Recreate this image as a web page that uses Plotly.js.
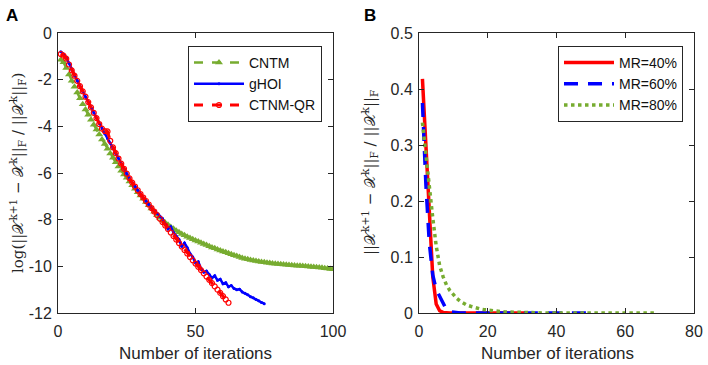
<!DOCTYPE html>
<html>
<head>
<meta charset="utf-8">
<script src="https://cdn.plot.ly/plotly-3.0.1.min.js"></script>
<style>html,body{margin:0;padding:0;background:#fff}#chart{width:708px;height:365px}</style>
</head>
<body>
<div id="chart"></div>
<script>
// ---------- Panel A data ----------
const cntmY = [-1.15,-1.25,-1.5,-1.78,-2.05,-2.3,-2.55,-2.8,-3.05,-3.28,
  -3.5,-3.72,-3.93,-4.14,-4.35,-4.56,-4.76,-4.96,-5.16,-5.35,
  -5.54,-5.72,-5.9,-6.06,-6.2,-6.36,-6.52,-6.67,-6.82,-6.96,
  -7.1,-7.24,-7.38,-7.52,-7.66,-7.8,-7.92,-8.03,-8.13,-8.22,
  -8.31,-8.39,-8.47,-8.54,-8.61,-8.67,-8.73,-8.79,-8.84,-8.89,
  -8.94,-8.99,-9.04,-9.09,-9.14,-9.19,-9.23,-9.28,-9.32,-9.36,
  -9.4,-9.44,-9.48,-9.52,-9.56,-9.6,-9.64,-9.67,-9.7,-9.73,
  -9.75,-9.77,-9.79,-9.81,-9.83,-9.85,-9.86,-9.88,-9.89,-9.9,
  -9.91,-9.92,-9.93,-9.94,-9.95,-9.96,-9.97,-9.98,-9.99,-10.0,
  -10.01,-10.02,-10.03,-10.04,-10.05,-10.06,-10.08,-10.09,-10.11,-10.13];
const ghoiY = [-0.8,-0.9,-1.05,-1.3,-1.58,-1.83,-2.05,-2.28,-2.5,-2.73,
  -2.96,-3.19,-3.42,-3.65,-3.88,-4.1,-4.32,-4.52,-4.72,-4.94,
  -5.16,-5.38,-5.6,-5.82,-6.03,-6.23,-6.41,-6.58,-6.74,-6.9,
  -7.05,-7.2,-7.35,-7.5,-7.63,-7.72,-7.85,-7.95,-8.2,-8.4,
  -8.3,-8.55,-8.7,-8.85,-9.15,-9.0,-9.2,-9.45,-9.6,-9.85,
  -9.8,-10.1,-10.25,-10.2,-10.35,-10.5,-10.4,-10.6,-10.55,-10.75,
  -10.7,-10.88,-10.82,-10.95,-11.0,-10.98,-11.1,-11.15,-11.22,-11.3,
  -11.35,-11.42,-11.48,-11.55,-11.6];
const ctnmqrY = [-0.9,-0.97,-1.1,-1.35,-1.6,-1.83,-2.05,-2.28,-2.5,-2.73,
  -2.96,-3.19,-3.42,-3.65,-3.9,-4.1,-4.2,-4.22,-4.62,-4.9,
  -5.15,-5.38,-5.6,-5.82,-6.03,-6.23,-6.41,-6.58,-6.74,-6.9,
  -7.05,-7.2,-7.35,-7.5,-7.65,-7.8,-7.95,-8.1,-8.25,-8.4,
  -8.55,-8.7,-8.85,-9.0,-9.15,-9.3,-9.45,-9.6,-9.74,-9.88,
  -10.02,-10.16,-10.3,-10.44,-10.58,-10.72,-10.86,-11.0,-11.14,-11.28,
  -11.42,-11.56];

// ---------- Panel B data ----------
const mr40Y = [0.418,0.3,0.18,0.065,0.016,0.004,0.001,0,0,0,
  0,0,0,0,0,0,0,0,0,0,
  0,0,0,0,0,0,0,0,0,0,0];
const mr60Y = [0.375,0.23,0.125,0.068,0.042,0.03,0.018,0.006,0.002,0.001,
  0,0,0,0,0,0,0,0,0,0,
  0,0,0,0,0,0,0,0,0,0,
  0,0,0,0,0,0,0,0,0,0,
  0,0,0,0,0,0,0,0,0,0];
const mr80Y = [0.34,0.28,0.225,0.17,0.12,0.085,0.065,0.05,0.04,0.032,
  0.026,0.021,0.017,0.014,0.012,0.01,0.008,0.007,0.006,0.005,
  0.004,0.0035,0.003,0.0025,0.002,0.0017,0.0014,0.0012,0.001,0.0008,
  0.0006,0.0005,0.0004,0.0003,0.0002,0.0001,0,0,0,0,
  0,0,0,0,0,0,0,0,0,0,
  0,0,0,0,0,0,0,0,0,0,
  0,0,0,0,0,0,0,0,0];

// tick labels
const aXTicks = [0, 50, 100];
const aYTicks = [0, -2, -4, -6, -8, -10, -12];
const aYText = ['0', '-2', '-4', '-6', '-8', '-10', '-12'];
const bXTicks = [0, 20, 40, 60, 80];
const bYTicks = [0, 0.1, 0.2, 0.3, 0.4, 0.5];
const bYText = ['0', '0.1', '0.2', '0.3', '0.4', '0.5'];

const iters = n => Array.from({length: n}, (_, i) => i + 1);

const GREEN = '#77AC30', BLUE = '#0000FF', RED = '#FF0000';
const AX = '#262626';
const FONT = 'Liberation Sans, Arial, Helvetica, sans-serif';

const traces = [
  {x: iters(cntmY.length), y: cntmY, name: 'CNTM', type: 'scatter', mode: 'lines+markers',
   line: {color: GREEN, width: 2.5, dash: 'dash'},
   marker: {symbol: 'triangle-up', size: 7, color: GREEN}, xaxis: 'x', yaxis: 'y', legend: 'legend'},
  {x: iters(ghoiY.length), y: ghoiY, name: 'gHOI', type: 'scatter', mode: 'lines+markers',
   line: {color: BLUE, width: 2.5},
   marker: {symbol: 'circle', size: 3, color: BLUE}, xaxis: 'x', yaxis: 'y', legend: 'legend'},
  {x: iters(ctnmqrY.length), y: ctnmqrY, name: 'CTNM-QR', type: 'scatter', mode: 'lines+markers',
   line: {color: RED, width: 3, dash: 'dash'},
   marker: {symbol: 'circle-open', size: 5, color: RED, line: {width: 1.2, color: RED}}, xaxis: 'x', yaxis: 'y', legend: 'legend'},
  {x: iters(mr40Y.length), y: mr40Y, name: 'MR=40%', type: 'scatter', mode: 'lines',
   line: {color: RED, width: 3.5}, xaxis: 'x2', yaxis: 'y2', legend: 'legend2'},
  {x: iters(mr60Y.length), y: mr60Y, name: 'MR=60%', type: 'scatter', mode: 'lines',
   line: {color: BLUE, width: 3.5, dash: '14px,10px'}, xaxis: 'x2', yaxis: 'y2', legend: 'legend2'},
  {x: iters(mr80Y.length), y: mr80Y, name: 'MR=80%', type: 'scatter', mode: 'lines',
   line: {color: GREEN, width: 3.5, dash: 'dot'}, xaxis: 'x2', yaxis: 'y2', legend: 'legend2'}
];

const axBase = {
  showgrid: false, zeroline: false, showline: true, linecolor: AX, linewidth: 1,
  mirror: 'ticks', ticks: 'inside', ticklen: 5, tickcolor: AX, tickwidth: 1,
  tickfont: {family: FONT, size: 16, color: AX}, tickmode: 'array', fixedrange: true
};
const yDom = [52/365, 332/365];

const legBase = {
  bgcolor: '#fff', bordercolor: AX, borderwidth: 1,
  font: {family: FONT, size: 14, color: '#111'},
  xanchor: 'left', yanchor: 'top', itemwidth: 50, tracegroupgap: 0
};

const layout = {
  width: 708, height: 365,
  margin: {l: 0, r: 0, t: 0, b: 0},
  paper_bgcolor: '#fff', plot_bgcolor: '#fff',
  showlegend: true,
  xaxis: Object.assign({}, axBase, {domain: [58/708, 333/708], range: [0, 100], tickvals: aXTicks,
    anchor: 'y', ticklabelstandoff: 4}),
  yaxis: Object.assign({}, axBase, {domain: yDom, range: [-12, 0], tickvals: aYTicks, ticktext: aYText,
    anchor: 'x', ticklabelstandoff: 2}),
  xaxis2: Object.assign({}, axBase, {domain: [419/708, 694/708], range: [0, 80], tickvals: bXTicks,
    anchor: 'y2', ticklabelstandoff: 4}),
  yaxis2: Object.assign({}, axBase, {domain: yDom, range: [0, 0.5], tickvals: bYTicks, ticktext: bYText,
    anchor: 'x2', ticklabelstandoff: 2}),
  legend: Object.assign({}, legBase, {x: 188/708, y: 1 - 46/365}),
  legend2: Object.assign({}, legBase, {x: 558/708, y: 1 - 46/365}),
  annotations: [
    {text: '<b>A</b>', xref: 'paper', yref: 'paper', x: 4/708, y: 1 - 4/365, xanchor: 'left', yanchor: 'top',
     showarrow: false, font: {family: FONT, size: 17, color: '#000'}},
    {text: '<b>B</b>', xref: 'paper', yref: 'paper', x: 362/708, y: 1 - 4/365, xanchor: 'left', yanchor: 'top',
     showarrow: false, font: {family: FONT, size: 17, color: '#000'}},
    {text: 'Number of iterations', xref: 'paper', yref: 'paper', x: 195/708, y: 1 - 353/365,
     xanchor: 'center', yanchor: 'middle', showarrow: false, font: {family: FONT, size: 17, color: AX}},
    {text: 'Number of iterations', xref: 'paper', yref: 'paper', x: 557/708, y: 1 - 353/365,
     xanchor: 'center', yanchor: 'middle', showarrow: false, font: {family: FONT, size: 17, color: AX}},
    {text: 'log(||𝒳<sup>k+1</sup> − 𝒳<sup>k</sup>||<sub>F</sub> / ||𝒳<sup>k</sup>||<sub>F</sub>)',
     xref: 'paper', yref: 'paper', x: 18/708, y: 1 - 173/365, xanchor: 'center', yanchor: 'middle',
     textangle: -90, showarrow: false, font: {family: 'DejaVu Serif, Liberation Serif, serif', size: 15, color: AX}},
    {text: '||𝒳<sup>k+1</sup> − 𝒳<sup>k</sup>||<sub>F</sub> / ||𝒳<sup>k</sup>||<sub>F</sub>',
     xref: 'paper', yref: 'paper', x: 370/708, y: 1 - 173/365, xanchor: 'center', yanchor: 'middle',
     textangle: -90, showarrow: false, font: {family: 'DejaVu Serif, Liberation Serif, serif', size: 15, color: AX}}
  ]
};

Plotly.newPlot('chart', traces, layout, {staticPlot: true, displayModeBar: false});
</script>
</body>
</html>
